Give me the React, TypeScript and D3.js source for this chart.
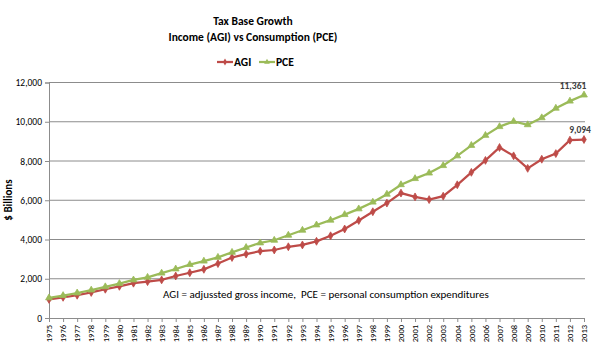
import React, { useEffect, useRef } from "react";
import * as d3 from "d3";

const years = d3.range(1975, 2014).map(String);

// $ billions
const agi = [
  947, 1054, 1159, 1302, 1465, 1614, 1773, 1852, 1942, 2140, 2306, 2481, 2773,
  3084, 3256, 3405, 3465, 3630, 3723, 3908, 4189, 4536, 4970, 5415, 5855, 6365,
  6170, 6034, 6208, 6788, 7423, 8030, 8688, 8263, 7626, 8090, 8378, 9060, 9094,
];
const pce = [
  1026, 1143, 1273, 1423, 1590, 1755, 1938, 2073, 2286, 2498, 2723, 2898, 3092,
  3346, 3593, 3826, 3960, 4216, 4471, 4741, 4984, 5269, 5560, 5903, 6307, 6792,
  7103, 7385, 7765, 8260, 8794, 9304, 9751, 10014, 9847, 10202, 10689, 11051,
  11361,
];
const yTicks = [0, 2000, 4000, 6000, 8000, 10000, 12000];

const FONT = "Carlito, 'Liberation Sans', Arial, sans-serif";

const App = () => {
  const ref = useRef<SVGSVGElement>(null);

  useEffect(() => {
    document.body.style.margin = "0";
    const svg = d3.select(ref.current);
    svg.selectAll("*").remove();

    const x = d3.scalePoint().domain(years).range([49, 584]);
    const y = d3.scaleLinear().domain([0, 12000]).range([318, 82.5]);

    // gridlines
    svg
      .append("g")
      .selectAll("line")
      .data(yTicks.slice(1))
      .enter()
      .append("line")
      .attr("x1", 49)
      .attr("x2", 585)
      .attr("y1", (d) => y(d))
      .attr("y2", (d) => y(d))
      .attr("stroke", "#8c8c8c")
      .attr("stroke-width", 1);

    // y axis
    const yAxis = svg
      .append("g")
      .attr("transform", "translate(49,0)")
      .call(d3.axisLeft(y).tickValues(yTicks).tickFormat(d3.format(",")).tickSize(4));
    yAxis.select(".domain").attr("stroke", "#8c8c8c");
    yAxis.selectAll(".tick line").attr("stroke", "#8c8c8c");
    yAxis
      .selectAll("text")
      .attr("font-family", FONT)
      .attr("font-size", 9.5)
      .attr("fill", "#000")
      .attr("x", -7);

    // x axis
    const xAxis = svg
      .append("g")
      .attr("transform", "translate(0,318)")
      .call(d3.axisBottom(x).tickSize(4).tickSizeOuter(0));
    xAxis.select(".domain").attr("stroke", "#8c8c8c");
    xAxis.selectAll(".tick line").attr("stroke", "#8c8c8c");
    xAxis
      .selectAll("text")
      .attr("font-family", FONT)
      .attr("font-size", 8.5)
      .attr("fill", "#000")
      .attr("transform", "rotate(-90)")
      .attr("x", -7)
      .attr("y", 0)
      .attr("dy", "0.32em")
      .style("text-anchor", "end");

    const series = [
      { name: "AGI", values: agi, color: "#be4b48" },
      { name: "PCE", values: pce, color: "#9bbb59" },
    ];

    const line = d3
      .line<number>()
      .x((_, i) => x(years[i]) as number)
      .y((d) => y(d));

    series.forEach((s) => {
      svg
        .append("path")
        .datum(s.values)
        .attr("d", line)
        .attr("fill", "none")
        .attr("stroke", s.color)
        .attr("stroke-width", 2.25);

      const sym = d3
        .symbol()
        .type(s.name === "AGI" ? d3.symbolDiamond : d3.symbolTriangle)
        .size(s.name === "AGI" ? 18 : 20);
      svg
        .append("g")
        .selectAll("path")
        .data(s.values)
        .enter()
        .append("path")
        .attr("d", sym)
        .attr("transform", (d, i) => `translate(${x(years[i])},${y(d)})`)
        .attr("fill", s.color)
        .attr("stroke", s.color)
        .attr("stroke-width", 0.8);
    });

    // end labels
    [
      { v: pce[pce.length - 1], dx: 573, dy: -6 },
      { v: agi[agi.length - 1], dx: 580, dy: -7 },
    ].forEach((l) => {
      svg
        .append("text")
        .attr("x", l.dx)
        .attr("y", y(l.v) + l.dy)
        .attr("text-anchor", "middle")
        .attr("font-family", FONT)
        .attr("font-size", 9.5)
        .attr("font-weight", "bold")
        .attr("fill", "#404040")
        .text(d3.format(",")(l.v));
    });

    // titles
    svg
      .append("text")
      .attr("x", 253)
      .attr("y", 25)
      .attr("text-anchor", "middle")
      .attr("font-family", FONT)
      .attr("font-size", 11.5)
      .attr("font-weight", "bold")
      .text("Tax Base Growth");
    svg
      .append("text")
      .attr("x", 253)
      .attr("y", 41)
      .attr("text-anchor", "middle")
      .attr("font-family", FONT)
      .attr("font-size", 11.5)
      .attr("font-weight", "bold")
      .text("Income (AGI) vs Consumption (PCE)");

    // legend
    const legend = svg.append("g").attr("transform", "translate(217,62)");
    series.forEach((s, i) => {
      const g = legend.append("g").attr("transform", `translate(${i * 42},0)`);
      g.append("line")
        .attr("x1", 0)
        .attr("x2", 16)
        .attr("stroke", s.color)
        .attr("stroke-width", 2.25);
      g.append("path")
        .attr(
          "d",
          d3
            .symbol()
            .type(s.name === "AGI" ? d3.symbolDiamond : d3.symbolTriangle)
            .size(14)
        )
        .attr("transform", "translate(8,0)")
        .attr("fill", s.color);
      g.append("text")
        .attr("x", 17)
        .attr("y", 4)
        .attr("font-family", FONT)
        .attr("font-size", 11.5)
        .attr("font-weight", "bold")
        .text(s.name);
    });

    // y title
    svg
      .append("text")
      .attr("transform", "translate(12,200) rotate(-90)")
      .attr("text-anchor", "middle")
      .attr("font-family", FONT)
      .attr("font-size", 11)
      .attr("font-weight", "bold")
      .text("$ Billions");

    // note
    svg
      .append("text")
      .attr("x", 163)
      .attr("y", 298)
      .attr("font-family", FONT)
      .attr("font-size", 11)
      .attr("xml:space", "preserve")
      .style("white-space", "pre")
      .text("AGI = adjussted gross income,  PCE = personal consumption expenditures");
  }, []);

  return <svg ref={ref} width={600} height={362} style={{ display: "block", background: "#fff" }} />;
};

export default App;
